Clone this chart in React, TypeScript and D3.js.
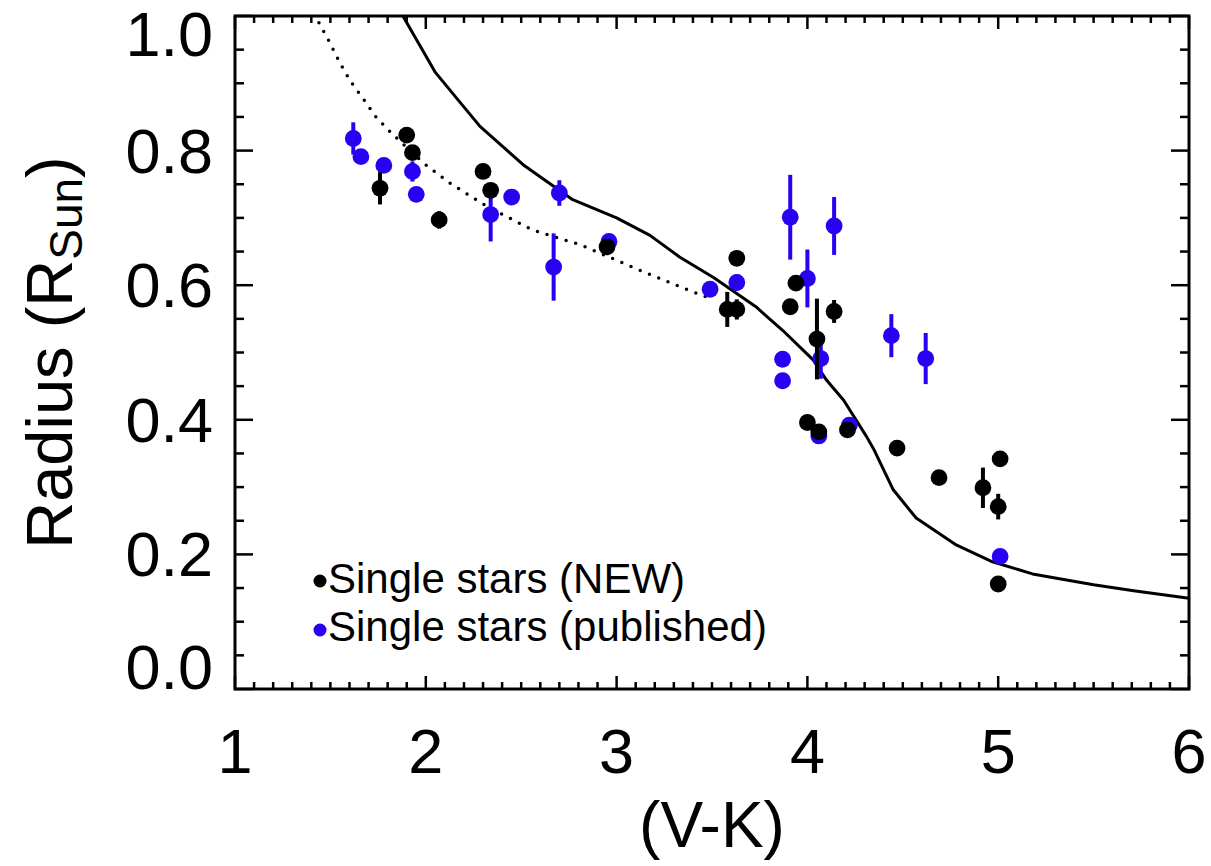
import React from "react";
import * as d3 from "d3";

// Single stars (NEW) - black
const newVK = [1.76, 1.9, 1.93, 2.07, 2.3, 2.34, 2.95, 3.58, 3.63, 3.63, 3.91, 3.94, 4.05, 4.14, 4.0, 4.06, 4.21, 4.47, 4.69, 4.92, 5.01, 5.0, 5.0];
const newRad = [0.744, 0.823, 0.797, 0.697, 0.769, 0.741, 0.657, 0.564, 0.564, 0.64, 0.568, 0.603, 0.52, 0.561, 0.396, 0.382, 0.385, 0.358, 0.314, 0.299, 0.342, 0.271, 0.156];
const newErr = [0.024, 0, 0, 0.013, 0, 0.01, 0, 0.026, 0.015, 0, 0, 0, 0.06, 0.017, 0, 0, 0, 0, 0, 0.03, 0, 0.019, 0];

// Single stars (published) - blue
const pubVK = [1.62, 1.66, 1.78, 1.93, 1.95, 2.34, 2.45, 2.7, 2.67, 2.96, 3.49, 3.63, 3.91, 4.14, 4.0, 3.87, 3.87, 4.07, 4.06, 4.22, 4.44, 4.62, 5.01];
const pubRad = [0.818, 0.791, 0.778, 0.769, 0.735, 0.705, 0.731, 0.737, 0.627, 0.665, 0.594, 0.604, 0.701, 0.688, 0.61, 0.49, 0.458, 0.491, 0.376, 0.392, 0.525, 0.491, 0.197];
const pubErr = [0.024, 0, 0, 0.015, 0, 0.04, 0, 0.019, 0.05, 0, 0, 0.012, 0.063, 0.043, 0.043, 0, 0, 0.03, 0, 0, 0.032, 0.038, 0];

// model curves
const solidVK = [1.88, 2.048, 2.17, 2.284, 2.51, 2.77, 3.0, 3.175, 3.33, 3.51, 3.73, 3.87, 4.03, 4.1, 4.19, 4.31, 4.35, 4.45, 4.57, 4.78, 4.97, 5.18, 5.5, 5.71, 6.0];
const solidRad = [1.0, 0.917, 0.875, 0.836, 0.779, 0.727, 0.7, 0.674, 0.642, 0.611, 0.568, 0.533, 0.489, 0.459, 0.429, 0.375, 0.355, 0.296, 0.254, 0.214, 0.189, 0.171, 0.155, 0.146, 0.135];
const dotVK = [1.44, 1.494, 1.547, 1.603, 1.672, 1.739, 1.82, 1.99, 2.13, 2.32, 2.56, 2.81, 3.14, 3.33, 3.51];
const dotRad = [0.99, 0.962, 0.932, 0.904, 0.877, 0.85, 0.826, 0.781, 0.751, 0.717, 0.682, 0.66, 0.62, 0.598, 0.578];

const xTickLabels = ["1", "2", "3", "4", "5", "6"];
const yTickLabels = ["0.0", "0.2", "0.4", "0.6", "0.8", "1.0"];

const W = 1211;
const H = 866;
const PLOT = { left: 235, right: 1189, top: 16, bottom: 689 };
const BLUE = "#2a00f2";
const FONT = "'Liberation Sans', Arial, Helvetica, sans-serif";

export default function App() {
  const x = d3.scaleLinear().domain([1, 6]).range([PLOT.left, PLOT.right]);
  const y = d3.scaleLinear().domain([0, 1]).range([PLOT.bottom, PLOT.top]);

  const line = d3
    .line<[number, number]>()
    .x((d) => x(d[0]))
    .y((d) => y(d[1]));

  const solidPath = line(solidVK.map((v, i) => [v, solidRad[i]]));
  const dotPath = line(dotVK.map((v, i) => [v, dotRad[i]]));

  // ticks: x minor every 0.1, y minor every 0.05
  const xTicks = d3.range(0, 51).map((i) => ({ v: 1 + i / 10, major: i % 10 === 0 }));
  const yTicks = d3.range(0, 21).map((i) => ({ v: i / 20, major: i % 4 === 0 }));

  const points = (vk: number[], rad: number[], err: number[], color: string, key: string) =>
    vk.map((v, i) => (
      <g key={key + i}>
        {err[i] > 0 && (
          <line
            x1={x(v)}
            x2={x(v)}
            y1={y(rad[i] - err[i])}
            y2={y(rad[i] + err[i])}
            stroke={color}
            strokeWidth={4}
          />
        )}
        <circle cx={x(v)} cy={y(rad[i])} r={8.4} fill={color} />
      </g>
    ));

  return (
    <svg
      width={W}
      height={H}
      style={{ position: "absolute", left: 0, top: 0, background: "#fff" }}
      fontFamily={FONT}
    >
      <rect width={W} height={H} fill="#fff" />

      {/* curves */}
      <path d={solidPath ?? ""} fill="none" stroke="#000" strokeWidth={3} strokeLinejoin="round" />
      <path
        d={dotPath ?? ""}
        fill="none"
        stroke="#000"
        strokeWidth={3.5}
        strokeLinecap="round"
        strokeDasharray="0 10"
      />

      {/* data */}
      {points(pubVK, pubRad, pubErr, BLUE, "p")}
      {points(newVK, newRad, newErr, "#000", "n")}

      {/* frame */}
      <rect
        x={PLOT.left}
        y={PLOT.top}
        width={PLOT.right - PLOT.left}
        height={PLOT.bottom - PLOT.top}
        fill="none"
        stroke="#000"
        strokeWidth={3}
      />
      {xTicks.map((t, i) => {
        const len = t.major ? 13 : 7;
        return (
          <g key={"xt" + i} stroke="#000" strokeWidth={2.5}>
            <line x1={x(t.v)} x2={x(t.v)} y1={PLOT.bottom} y2={PLOT.bottom - len} />
            <line x1={x(t.v)} x2={x(t.v)} y1={PLOT.top} y2={PLOT.top + len} />
          </g>
        );
      })}
      {yTicks.map((t, i) => {
        const len = t.major ? 18 : 9;
        return (
          <g key={"yt" + i} stroke="#000" strokeWidth={2.5}>
            <line x1={PLOT.left} x2={PLOT.left + len} y1={y(t.v)} y2={y(t.v)} />
            <line x1={PLOT.right} x2={PLOT.right - len} y1={y(t.v)} y2={y(t.v)} />
          </g>
        );
      })}

      {/* tick labels */}
      {xTickLabels.map((lab) => (
        <text key={"xl" + lab} x={x(+lab)} y={773} fontSize={63} textAnchor="middle">
          {lab}
        </text>
      ))}
      {yTickLabels.map((lab) => {
        const base = Math.min(Math.max(y(+lab) + 22, 56), PLOT.bottom);
        return (
          <text key={"yl" + lab} x={213} y={base} fontSize={63} textAnchor="end">
            {lab}
          </text>
        );
      })}

      {/* axis titles */}
      <text x={(PLOT.left + PLOT.right) / 2} y={847} fontSize={64} textAnchor="middle">
        (V-K)
      </text>
      <text
        transform={`translate(72,${(PLOT.top + PLOT.bottom) / 2}) rotate(-90)`}
        fontSize={65}
        textAnchor="middle"
      >
        Radius (R
        <tspan fontSize={46} dy={10}>
          Sun
        </tspan>
        <tspan dy={-10}>)</tspan>
      </text>

      {/* legend */}
      <circle cx={320} cy={581} r={6.5} fill="#000" />
      <text x={328} y={593} fontSize={42}>
        Single stars (NEW)
      </text>
      <circle cx={320} cy={630} r={6.5} fill={BLUE} />
      <text x={328} y={641} fontSize={42}>
        Single stars (published)
      </text>
    </svg>
  );
}
